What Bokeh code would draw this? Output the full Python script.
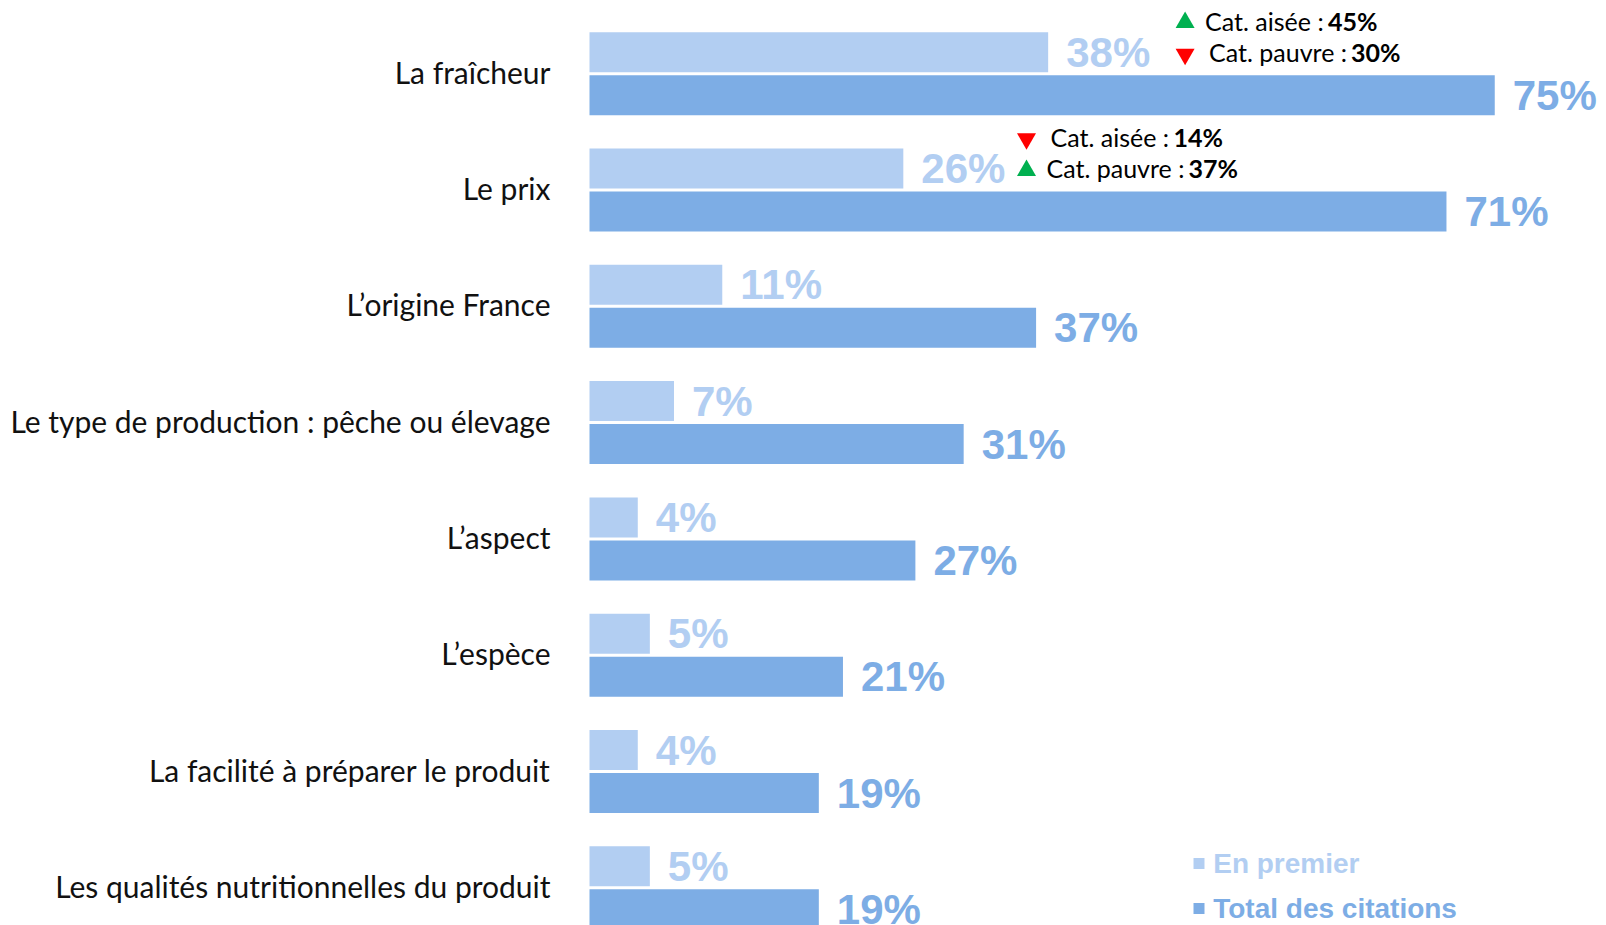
from bokeh.plotting import figure
from bokeh.models import Range1d, ColumnDataSource
from bokeh.core.properties import value
from bokeh.embed import file_html
from bokeh.resources import INLINE

# ---------------- data ----------------
categories = [
    "La fraîcheur",
    "Le prix",
    "L\u2019origine France",
    "Le type de production : pêche ou élevage",
    "L\u2019aspect",
    "L\u2019espèce",
    "La facilité à préparer le produit",
    "Les qualités nutritionnelles du produit",
]
en_premier = [38, 26, 11, 7, 4, 5, 4, 5]
total_citations = [75, 71, 37, 31, 27, 21, 19, 19]
series_names = ["En premier", "Total des citations"]

# sub-group annotations (group index, label, value, direction)
ann_group = [0, 0, 1, 1]
ann_label = ["Cat. aisée : ", "Cat. pauvre : ", "Cat. aisée : ", "Cat. pauvre : "]
ann_value = [45, 30, 14, 37]
ann_dir = ["up", "down", "down", "up"]

# ---------------- layout ----------------
W, H = 1606, 925
X0, SX = 589.0, 12.07          # pixel of 0 %, pixels per %
YC0, SY = 73.2, 116.3          # pixel of first group centre, pixels per group
BAR_H, GAP = 40.0, 3.0

LIGHT = "#B2CEF2"
DARK = "#7DADE5"

def dx(px):
    return (px - X0) / SX

def dy(py):
    return (py - YC0) / SY

p = figure(width=W, height=H, output_backend="svg", toolbar_location=None,
           x_range=Range1d(-X0 / SX, (W - X0) / SX),
           y_range=Range1d((H - YC0) / SY, -YC0 / SY),
           x_axis_location=None, y_axis_location=None,
           min_border=0, outline_line_color=None,
           background_fill_color="white", border_fill_color="white")
p.grid.visible = False

idx = list(range(len(categories)))
off = (GAP / 2 + BAR_H / 2) / SY
light_y = [i - off for i in idx]
dark_y = [i + off for i in idx]

src_l = ColumnDataSource(dict(y=light_y, v=en_premier,
                              t=[f"{v}%" for v in en_premier]))
src_d = ColumnDataSource(dict(y=dark_y, v=total_citations,
                              t=[f"{v}%" for v in total_citations]))

p.hbar(y="y", left=0, right="v", height=BAR_H / SY, source=src_l,
       fill_color=LIGHT, line_color=None)
p.hbar(y="y", left=0, right="v", height=BAR_H / SY, source=src_d,
       fill_color=DARK, line_color=None)

lab_font = value("Liberation Sans")
p.text(x="v", y="y", text="t", source=src_l, x_offset=18,
       text_font=lab_font, text_font_style="bold", text_font_size="42px",
       text_color=LIGHT, text_baseline="middle", text_align="left")
p.text(x="v", y="y", text="t", source=src_d, x_offset=18,
       text_font=lab_font, text_font_style="bold", text_font_size="42px",
       text_color=DARK, text_baseline="middle", text_align="left")

# category labels
p.text(x=[0] * len(idx), y=idx, text=categories, x_offset=-39, y_offset=-2,
       text_font=value("Lato"), text_font_size="30px", text_color="#111111",
       text_baseline="middle", text_align="right")

# annotations
ann_x_px = {0: 1184.6, 1: 1026.0}
tri_up_x, tri_up_y, tri_dn_x, tri_dn_y = [], [], [], []
txt_x, txt_y, txt_off, bold_off = [], [], [], []
for k in range(len(ann_group)):
    g = ann_group[k]
    line = k % 2
    yy = g + (-0.44 if line == 0 else -0.168)
    xx = dx(ann_x_px[g])
    if ann_dir[k] == "up":
        tri_up_x.append(xx); tri_up_y.append(yy)
        o = 20
    else:
        tri_dn_x.append(xx); tri_dn_y.append(yy)
        o = 24
    txt_x.append(xx); txt_y.append(yy); txt_off.append(o)
    bold_off.append(o + (123 if "aisée" in ann_label[k] else 142))

p.scatter(tri_up_x, tri_up_y, marker="triangle", size=19,
          fill_color="#00B050", line_color=None)
p.scatter(tri_dn_x, tri_dn_y, marker="inverted_triangle", size=19,
          fill_color="#FF0000", line_color=None)

src_a = ColumnDataSource(dict(x=txt_x, y=txt_y, t=ann_label, o=txt_off,
                              bo=bold_off, bt=[f"{v}%" for v in ann_value]))
p.text(x="x", y="y", text="t", x_offset="o", y_offset=-2, source=src_a,
       text_font=value("Lato"), text_font_size="25px", text_color="black",
       text_baseline="middle", text_align="left")
p.text(x="x", y="y", text="bt", x_offset="bo", y_offset=-2, source=src_a,
       text_font=value("Lato"), text_font_style="bold", text_font_size="25px",
       text_color="black", text_baseline="middle", text_align="left")

# legend
leg_y = [dy(863), dy(908)]
leg_x = dx(1198.5)
p.scatter([leg_x], [leg_y[0]], marker="square", size=11, fill_color=LIGHT, line_color=None)
p.scatter([leg_x], [leg_y[1]], marker="square", size=11, fill_color=DARK, line_color=None)
p.text(x=[dx(1212.7)], y=[leg_y[0]], text=[series_names[0]],
       text_font=lab_font, text_font_style="bold", text_font_size="28px",
       text_color=LIGHT, text_baseline="middle", text_align="left")
p.text(x=[dx(1212.7)], y=[leg_y[1]], text=[series_names[1]],
       text_font=lab_font, text_font_style="bold", text_font_size="28px",
       text_color=DARK, text_baseline="middle", text_align="left")

open("out.html", "w").write(file_html(p, INLINE))
